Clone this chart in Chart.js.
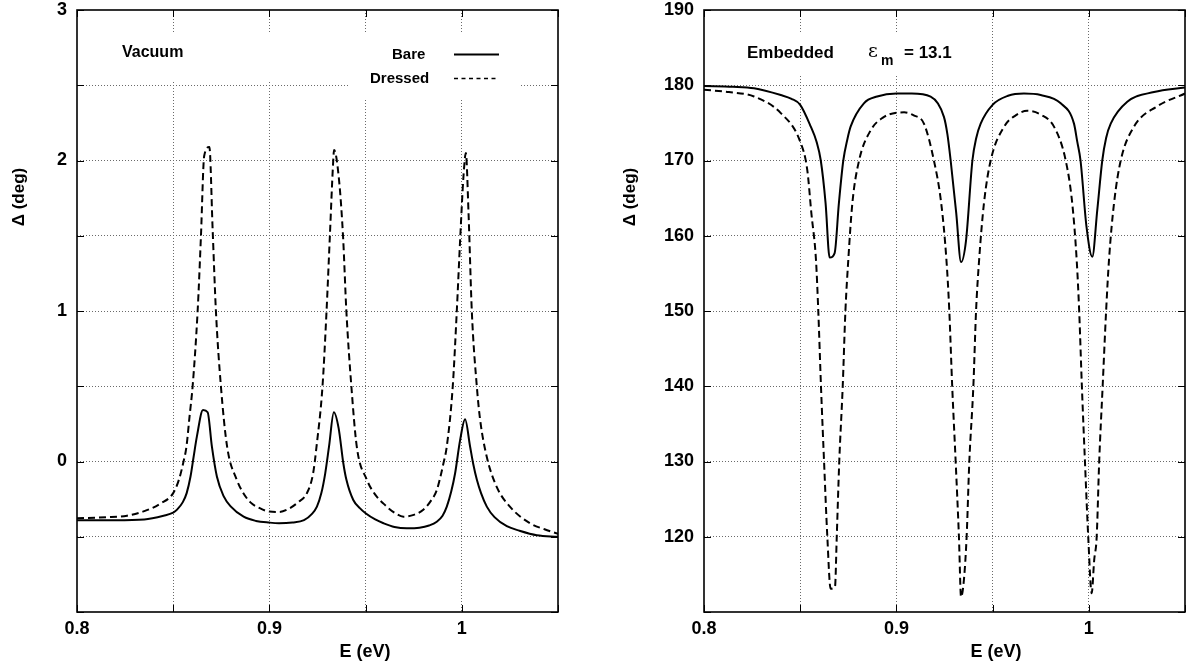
<!DOCTYPE html>
<html>
<head>
<meta charset="utf-8">
<script src="https://cdn.jsdelivr.net/npm/chart.js@4.4.0/dist/chart.umd.min.js"></script>
<style>
  html, body { margin: 0; padding: 0; background: #fff; }
  #wrap { position: relative; width: 1188px; height: 668px; }
  canvas { position: absolute; top: 0; }
  #left { left: 0; }
  #right { left: 594px; }
</style>
</head>
<body>
<div id="wrap">
  <canvas id="left" width="594" height="668" style="width:594px;height:668px"></canvas>
  <canvas id="right" width="594" height="668" style="width:594px;height:668px"></canvas>
</div>
<script>
// vacuum panel, bare
const eVacBare = [0.800, 0.820, 0.835, 0.845, 0.850, 0.852, 0.855, 0.857, 0.859, 0.8606, 0.8623, 0.8655, 0.8679,
  0.8701, 0.8727, 0.8762, 0.880, 0.8866, 0.893, 0.900, 0.905, 0.912, 0.918, 0.922, 0.9247, 0.927, 0.929, 0.931,
  0.9335, 0.936, 0.9384, 0.940, 0.9436, 0.947, 0.950, 0.955, 0.9593, 0.965, 0.9714, 0.978, 0.983, 0.987, 0.990,
  0.9922, 0.9945, 0.9965, 0.9991, 1.0017, 1.0043, 1.006, 1.0078, 1.010, 1.013, 1.017, 1.0234, 1.030, 1.039, 1.050];
const dVacBare = [-0.39, -0.39, -0.385, -0.36, -0.34, -0.32, -0.27, -0.21, -0.10, 0.03, 0.165, 0.342, 0.327,
  0.10, -0.10, -0.23, -0.30, -0.367, -0.395, -0.406, -0.41, -0.405, -0.39, -0.35, -0.30, -0.21, -0.08, 0.10,
  0.327, 0.22, -0.01, -0.12, -0.256, -0.31, -0.344, -0.385, -0.41, -0.435, -0.444, -0.44, -0.425, -0.40, -0.36,
  -0.30, -0.20, -0.08, 0.14, 0.28, 0.10, -0.02, -0.12, -0.21, -0.30, -0.37, -0.43, -0.46, -0.49, -0.50];

// vacuum panel, dressed
const eVacDressed = [0.800, 0.815, 0.826, 0.835, 0.8433, 0.850, 0.853, 0.8552, 0.8569, 0.8585, 0.8601, 0.8627,
  0.8644, 0.8661, 0.8688, 0.8705, 0.8722, 0.8748, 0.878, 0.883, 0.886, 0.890, 0.895, 0.900, 0.905, 0.9106, 0.915,
  0.9195, 0.9227, 0.9245, 0.9276, 0.9297, 0.9314, 0.9331, 0.9336, 0.9362, 0.9383, 0.940, 0.9426, 0.9454, 0.9506,
  0.955, 0.9593, 0.965, 0.9697, 0.975, 0.980, 0.984, 0.987, 0.9905, 0.9922, 0.9953, 0.9974, 0.9992, 1.0009,
  1.0021, 1.0035, 1.0052, 1.0078, 1.0095, 1.013, 1.0182, 1.025, 1.0354, 1.043, 1.050];
const dVacDressed = [-0.377, -0.37, -0.36, -0.33, -0.28, -0.21, -0.12, -0.01, 0.10, 0.30, 0.50, 1.0,
  1.49, 2.03, 2.09, 1.54, 1.0, 0.5, 0.10, -0.12, -0.20, -0.27, -0.31, -0.333, -0.335, -0.31, -0.27,
  -0.21, -0.08, 0.10, 0.5, 1.0, 1.49, 1.98, 2.07, 1.87, 1.49, 1.0, 0.5, 0.10, -0.12,
  -0.22, -0.28, -0.34, -0.367, -0.355, -0.32, -0.26, -0.19, -0.01, 0.10, 0.5, 1.0, 1.49, 1.9,
  2.05, 1.65, 1.0, 0.5, 0.28, 0.03, -0.17, -0.30, -0.41, -0.45, -0.48];

// embedded panel, bare
const eEmbBare = [0.800, 0.815, 0.826, 0.8399, 0.8455, 0.850, 0.8555, 0.8585, 0.8607, 0.8632, 0.8653, 0.8679, 0.8701,
  0.8724, 0.8745, 0.8762, 0.8831, 0.890, 0.900, 0.908, 0.9178, 0.9247, 0.9265, 0.9282, 0.9311, 0.9336, 0.9362,
  0.9395, 0.9415, 0.9438, 0.950, 0.958, 0.9663, 0.975, 0.9854, 0.9923, 0.994, 0.9957, 0.9988, 1.0018, 1.0044,
  1.007, 1.009, 1.0114, 1.020, 1.0339, 1.050];
const dEmbBare = [179.9, 179.8, 179.6, 178.7, 178.2, 177.4, 174.5, 172.5, 170, 164.3, 157.1, 157.7, 164.3,
  170, 172.8, 174.5, 177.6, 178.5, 178.9, 178.9, 178.5, 175.8, 173.5, 170, 163, 156.5, 159.4,
  170, 173, 174.9, 177.4, 178.6, 178.9, 178.7, 177.6, 174.9, 172.5, 170, 161.2, 157.2, 163.4,
  170, 173, 174.9, 177.8, 179.1, 179.7];

// embedded panel, dressed
const eEmbDressed = [0.800, 0.813, 0.826, 0.8399, 0.850, 0.8537, 0.8558, 0.8582, 0.8594, 0.8608, 0.8624, 0.8641,
  0.8658, 0.8681, 0.869, 0.8703, 0.8721, 0.8735, 0.875, 0.8771, 0.8806, 0.8866, 0.893, 0.900, 0.904, 0.909,
  0.9143, 0.9195, 0.9233, 0.926, 0.9275, 0.929, 0.9308, 0.9325, 0.9336, 0.9351, 0.9365, 0.9379, 0.940, 0.9414,
  0.943, 0.9455, 0.949, 0.956, 0.962, 0.968, 0.975, 0.9819, 0.988, 0.9914, 0.9937, 0.995, 0.9964, 0.998,
  0.9997, 1.0015, 1.0028, 1.0041, 1.0054, 1.0072, 1.009, 1.0105, 1.0131, 1.0166, 1.0235, 1.0356, 1.050];
const dEmbDressed = [179.4, 179.1, 178.5, 176.3, 172.5, 168.7, 163, 156.8, 150, 140, 130, 120,
  113.1, 113.4, 120, 130, 140, 150, 156.8, 164.3, 170, 174, 175.7, 176.35, 176.4, 176,
  174.9, 170, 164.3, 156.8, 150, 140, 130, 120, 112.0, 114.3, 120, 130, 140, 150,
  156.8, 164.3, 170, 174.5, 176, 176.6, 176.1, 174.5, 170, 164.3, 156.8, 150, 140, 130,
  120, 112.5, 116.9, 120, 130, 140, 150, 156.8, 164.3, 170, 174.5, 177.2, 178.9];

const FONT = "'Liberation Sans', Arial, Helvetica, sans-serif";

function pts(xs, ys) {
  return xs.map((x, i) => ({ x: x, y: ys[i] }));
}

// frame, inner ticks, titles and in-plot labels
function decor(cfg) {
  return {
    id: "decor",
    beforeDatasetsDraw(chart) {
      const ctx = chart.ctx;
      ctx.save();
      ctx.fillStyle = "#fff";
      cfg.boxes.forEach((b) => ctx.fillRect(b[0], b[1], b[2], b[3]));
      ctx.restore();
    },
    afterDatasetsDraw(chart) {
      const ctx = chart.ctx;
      const a = chart.chartArea;
      const sx = chart.scales.x;
      const sy = chart.scales.y;
      ctx.save();
      ctx.strokeStyle = "#000";
      ctx.lineWidth = 1;
      ctx.beginPath();
      sx.ticks.forEach((t) => {
        const px = Math.round(sx.getPixelForValue(t.value)) + 0.5;
        ctx.moveTo(px, a.bottom); ctx.lineTo(px, a.bottom - 7);
        ctx.moveTo(px, a.top); ctx.lineTo(px, a.top + 7);
      });
      sy.ticks.forEach((t) => {
        const py = Math.round(sy.getPixelForValue(t.value)) + 0.5;
        ctx.moveTo(a.left, py); ctx.lineTo(a.left + 7, py);
        ctx.moveTo(a.right, py); ctx.lineTo(a.right - 7, py);
      });
      ctx.stroke();
      ctx.lineWidth = 1.6;
      ctx.strokeRect(a.left, a.top, a.right - a.left, a.bottom - a.top);

      ctx.fillStyle = "#000";
      ctx.font = "bold 18px " + FONT;
      ctx.textAlign = "center";
      ctx.textBaseline = "middle";
      ctx.fillText("E (eV)", cfg.xTitle[0], cfg.xTitle[1]);
      ctx.save();
      ctx.translate(cfg.yTitle[0], cfg.yTitle[1]);
      ctx.rotate(-Math.PI / 2);
      ctx.font = "bold 17px " + FONT;
      ctx.fillText("Δ (deg)", 0, 0);
      ctx.restore();
      cfg.extra(ctx);
      ctx.restore();
    },
  };
}

function makeChart(id, sets, yCfg, pad, yWidth, cfg) {
  return new Chart(document.getElementById(id), {
    type: "line",
    data: {
      datasets: [
        {
          label: "Bare",
          data: pts(sets[0], sets[1]),
          borderColor: "#000",
          borderWidth: 2,
          pointRadius: 0,
          cubicInterpolationMode: "monotone",
          fill: false,
        },
        {
          label: "Dressed",
          data: pts(sets[2], sets[3]),
          borderColor: "#000",
          borderWidth: 2,
          borderDash: [7, 4],
          pointRadius: 0,
          cubicInterpolationMode: "monotone",
          fill: false,
        },
      ],
    },
    options: {
      responsive: false,
      animation: false,
      layout: { padding: pad },
      plugins: { legend: { display: false }, tooltip: { enabled: false } },
      scales: {
        x: {
          type: "linear",
          min: 0.8,
          max: 1.05,
          afterFit: (s) => {
            s.height = 56;
            s.paddingLeft = 0;
            s.paddingRight = 0;
          },
          ticks: {
            stepSize: 0.05,
            autoSkip: false,
            maxRotation: 0,
            padding: 6,
            color: "#000",
            font: { family: FONT, size: 18, weight: "bold" },
            callback: (v) => {
              const r = Math.round(v * 100);
              return r % 10 === 0 ? String(r / 100) : "";
            },
          },
          grid: {
            drawTicks: false,
            lineWidth: 1,
            color: (c) => (c.tick && (Math.abs(c.tick.value - 0.8) < 1e-6 || Math.abs(c.tick.value - 1.05) < 1e-6) ? "rgba(0,0,0,0)" : "#6a6a6a"),
          },
          border: { display: false, dash: [1, 2] },
        },
        y: {
          type: "linear",
          min: yCfg.min,
          max: yCfg.max,
          afterFit: (s) => {
            s.width = yWidth;
            s.paddingTop = 0;
            s.paddingBottom = 0;
          },
          ticks: {
            stepSize: yCfg.step,
            autoSkip: false,
            padding: 10,
            color: "#000",
            font: { family: FONT, size: 18, weight: "bold" },
            callback: yCfg.label,
          },
          grid: {
            drawTicks: false,
            lineWidth: 1,
            color: (c) => (c.tick && (c.tick.value === yCfg.min || c.tick.value === yCfg.max) ? "rgba(0,0,0,0)" : "#6a6a6a"),
          },
          border: { display: false, dash: [1, 2] },
        },
      },
    },
    plugins: [decor(cfg)],
  });
}

makeChart(
  "left",
  [eVacBare, dVacBare, eVacDressed, dVacDressed],
  {
    min: -1, max: 3, step: 0.5,
    label: (v) => {
      const r = Math.round(v * 2);
      return r % 2 === 0 && r > -2 ? String(r / 2) : "";
    },
  },
  { top: 10, right: 36, left: 0, bottom: 0 },
  77,
  {
    boxes: [[110, 33, 170, 48], [350, 32, 170, 68]],
    xTitle: [365, 652],
    yTitle: [19, 197],
    extra: (ctx) => {
      ctx.textAlign = "left";
      ctx.textBaseline = "middle";
      ctx.font = "bold 16px " + FONT;
      ctx.fillText("Vacuum", 122, 53);
      ctx.font = "bold 15px " + FONT;
      ctx.fillText("Bare", 392, 55);
      ctx.fillText("Dressed", 370, 79);
      ctx.lineWidth = 2;
      ctx.beginPath();
      ctx.moveTo(454, 54.5); ctx.lineTo(499, 54.5);
      ctx.stroke();
      ctx.lineWidth = 1.3;
      ctx.setLineDash([4, 3.5]);
      ctx.beginPath();
      ctx.moveTo(454, 78.5); ctx.lineTo(499, 78.5);
      ctx.stroke();
      ctx.setLineDash([]);
    },
  }
);

makeChart(
  "right",
  [eEmbBare, dEmbBare, eEmbDressed, dEmbDressed],
  {
    min: 110, max: 190, step: 10,
    label: (v) => (v > 110 ? String(v) : ""),
  },
  { top: 10, right: 3, left: 0, bottom: 0 },
  110,
  {
    boxes: [[140, 33, 240, 42]],
    xTitle: [402, 652],
    yTitle: [36, 197],
    extra: (ctx) => {
      ctx.textAlign = "left";
      ctx.textBaseline = "middle";
      ctx.font = "bold 17px " + FONT;
      ctx.fillText("Embedded", 153, 53);
      ctx.font = "19px 'DejaVu Serif', 'Liberation Serif', serif";
      ctx.fillText("ε", 274, 52);
      ctx.font = "bold 14px " + FONT;
      ctx.fillText("m", 287, 61);
      ctx.font = "bold 17px " + FONT;
      ctx.fillText("= 13.1", 310, 53);
    },
  }
);
</script>
</body>
</html>
